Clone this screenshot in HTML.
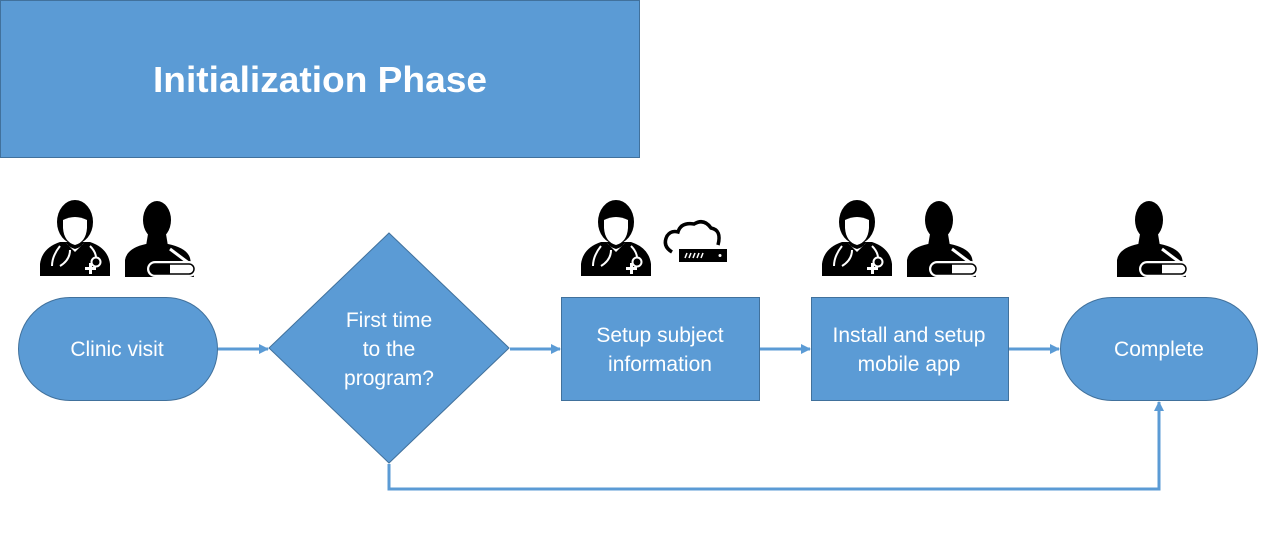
<!DOCTYPE html>
<html><head><meta charset="utf-8"><style>
html,body{margin:0;padding:0;background:#fff;width:1280px;height:540px;overflow:hidden}
svg{display:block}
text{font-family:"Liberation Sans",sans-serif;fill:#fff}
</style></head><body>
<svg width="1280" height="540" viewBox="0 0 1280 540" xmlns="http://www.w3.org/2000/svg">
<defs>
<marker id="ar" markerWidth="10" markerHeight="10" refX="9" refY="5" orient="auto" markerUnits="userSpaceOnUse">
<path d="M0,0 L10,5 L0,10 Z" fill="#5b9bd5"/></marker>
<g id="doc">
<path d="M0,76 L0,64 Q2,48 20,42 L50,42 Q68,48 70,64 L70,76 Z" fill="#000"/>
<ellipse cx="35" cy="22" rx="18" ry="22" fill="#000"/>
<path d="M23,20 Q35,14 47,20 L47,28 Q46,42 35,45 Q24,42 23,28 Z" fill="#fff"/>
<path d="M25,42 L35,52 L45,42 Q40,48 35,49 Q30,48 25,42 Z" fill="#fff"/>
<path d="M20,46 Q12,56 12,66 M30,50 Q30,60 20,66 M50,46 Q56,52 56,58" stroke="#fff" stroke-width="2" fill="none"/>
<circle cx="56" cy="62" r="4.5" stroke="#fff" stroke-width="2" fill="#000"/>
<rect x="49" y="63" width="3" height="11" fill="#fff"/><rect x="45" y="67" width="11" height="3" fill="#fff"/>
</g>
<g id="pat">
<ellipse cx="33" cy="20" rx="14" ry="19" fill="#000"/>
<path d="M24,34 L42,34 L44,46 L22,46 Z" fill="#000"/>
<path d="M1,77 L1,60 Q3,48 22,44 L44,44 Q63,48 66,58 L70,77 Z" fill="#000"/>
<path d="M46,49 L66,64" stroke="#fff" stroke-width="3"/>
<rect x="23" y="61" width="50" height="16" rx="8" fill="#fff"/>
<rect x="26" y="64" width="44" height="10" rx="5" fill="#fff" stroke="#000" stroke-width="1.5"/>
<path d="M31,64 L46,64 L46,74 L31,74 A5,5 0 0 1 31,64 Z" fill="#000"/>
</g>
</defs>
<rect x="0.5" y="0.5" width="639" height="157" fill="#5b9bd5" stroke="#41719c"/>
<text x="153" y="92" font-size="36" font-weight="bold" textLength="334" lengthAdjust="spacingAndGlyphs">Initialization Phase</text>

<use href="#doc" x="40" y="200"/><use href="#pat" x="124" y="200"/>
<use href="#doc" x="581" y="200"/>
<g fill="none" stroke="#000" stroke-width="3.5"><path d="M672,252 Q662,246 667,236 Q671,230 678,232 Q681,222 694,224 Q704,218 711,228 Q722,230 718,245"/></g>
<rect x="679" y="249" width="48" height="13" fill="#000"/>
<g stroke="#fff" stroke-width="1.5"><path d="M685,258 L687,253 M689,258 L691,253 M693,258 L695,253 M697,258 L699,253 M701,258 L703,253"/></g>
<circle cx="720" cy="255.5" r="1.5" fill="#fff"/>
<use href="#doc" x="822" y="200"/><use href="#pat" x="906" y="200"/>
<use href="#pat" x="1116" y="200"/>

<g fill="#5b9bd5" stroke="#41719c" stroke-width="1">
<rect x="18.5" y="297.5" width="199" height="103" rx="51.5"/>
<path d="M389,233 L509,348 L389,463 L269,348 Z"/>
<rect x="561.5" y="297.5" width="198" height="103"/>
<rect x="811.5" y="297.5" width="197" height="103"/>
<rect x="1060.5" y="297.5" width="197" height="103" rx="51.5"/>
</g>
<g stroke="#5b9bd5" stroke-width="3" fill="none" marker-end="url(#ar)">
<path d="M218,349 L268,349"/><path d="M510,349 L560,349"/><path d="M760,349 L810,349"/><path d="M1009,349 L1059,349"/>
<path d="M389,464 L389,489 L1159,489 L1159,402"/>
</g>
<g font-size="21" text-anchor="middle">
<text x="117" y="356">Clinic visit</text>
<text x="389" y="327">First time</text><text x="389" y="356">to the</text><text x="389" y="385">program?</text>
<text x="660" y="342">Setup subject</text><text x="660" y="371">information</text>
<text x="909" y="342">Install and setup</text><text x="909" y="371">mobile app</text>
<text x="1159" y="356">Complete</text>
</g>
</svg>
</body></html>
